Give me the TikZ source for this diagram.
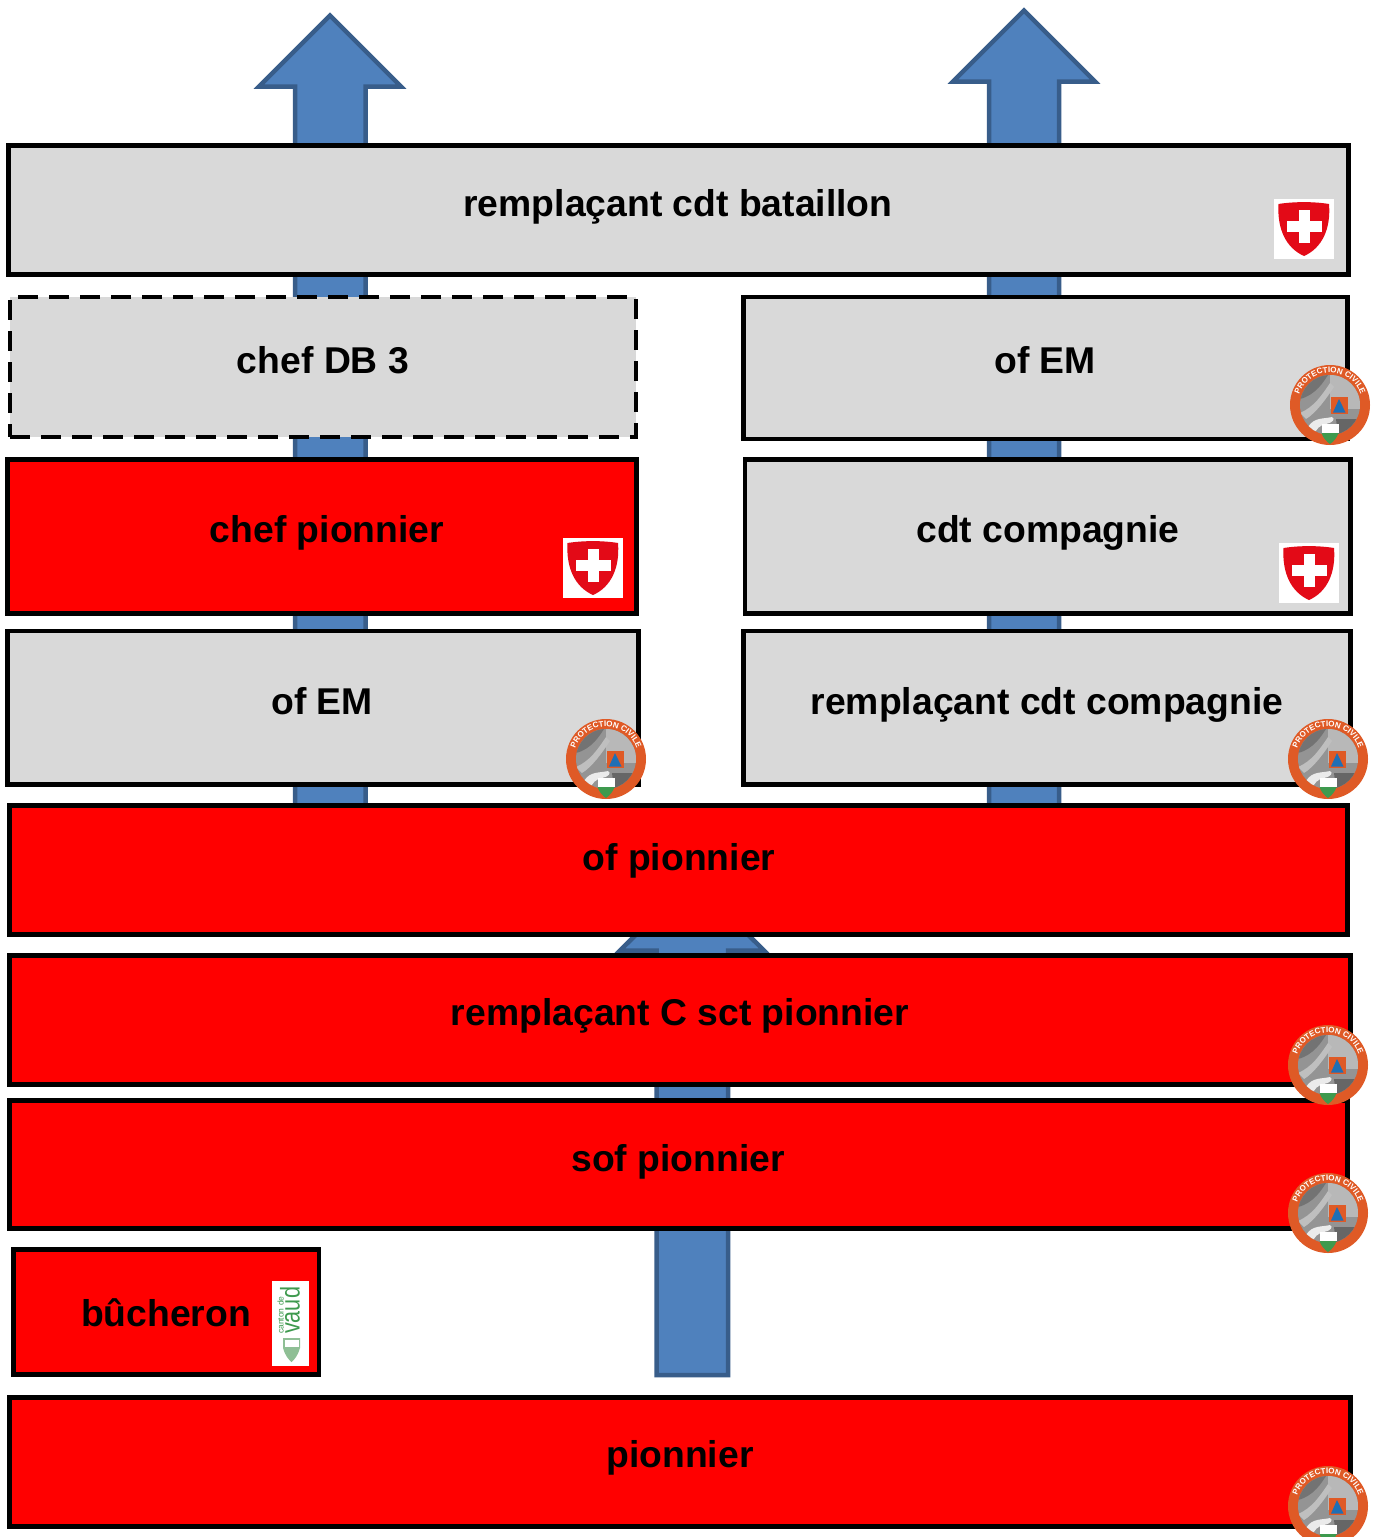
\documentclass[tikz,border=0pt]{standalone}
\usepackage{fontspec}
\usepackage{graphicx}
\setmainfont{Liberation Sans}
\usetikzlibrary{decorations.text,calc}
\definecolor{arrowfill}{HTML}{4F81BD}
\definecolor{arrowline}{HTML}{385D8A}
\definecolor{boxgray}{HTML}{D9D9D9}
\definecolor{boxred}{HTML}{FF0000}
\definecolor{pcorange}{HTML}{DF5A26}
\definecolor{chred}{HTML}{E30A17}
\definecolor{vdgreen}{HTML}{3E9A4E}
\definecolor{vdpale}{HTML}{8FBF95}
\definecolor{pcblue}{HTML}{1F6FB5}
\tikzset{
  blockarrow/.style={fill=arrowfill,draw=arrowline,line width=4.5pt,miter limit=10},
  panel/.style={draw=black,line width=4.5pt,inner sep=0pt,outer sep=0pt,anchor=north west},
  graypanel/.style={panel,fill=boxgray},
  redpanel/.style={panel,fill=boxred},
  dashpanel/.style={graypanel,dash pattern=on 20pt off 11pt},
  caption/.style={font=\fontsize{37.3}{37.3}\selectfont\bfseries,text=black,inner sep=0pt,anchor=base},
}
% panel: name, style, x1, y1, x2, y2, text, text x, text baseline y
\newcommand{\panelbox}[9]{%
  \pgfmathsetmacro{\pw}{#5-#3}\pgfmathsetmacro{\ph}{#6-#4}%
  \node[#2,minimum width=\pw pt,minimum height=\ph pt] (#1) at (#3,#4) {};
  \node[caption] (#1-label) at (#8,#9) {#7};
}
% Swiss shield: left/top of the 60px white square
\newcommand{\swissbadge}[3]{%
  \begin{scope}[shift={(#2,#3)}]
    \node[fill=white,minimum size=60pt,inner sep=0pt,outer sep=0pt,anchor=north west] (#1) at (0,0) {};
    \fill[chred] (4.5,5) .. controls (20,2.5) and (40,2.5) .. (55,5)
      .. controls (57,30) and (48,49) .. (30,57) .. controls (12,49) and (3,30) .. (4.5,5) -- cycle;
    \fill[white] (24.5,11) rectangle (36,44);
    \fill[white] (13,22) rectangle (48,33);
  \end{scope}}
% civil protection badge: centre
\newcommand{\pcbadge}[3]{%
  \begin{scope}[shift={(#2,#3)}]
    \node[circle,fill=pcorange,minimum size=80pt,inner sep=0pt,outer sep=0pt] (#1) at (0,0) {};
    \begin{scope}
      \clip (0,0) circle[radius=30pt];
      \fill[black!42] (-30,-30) rectangle (30,30);
      \fill[black!28] (0,-30) -- (30,-30) -- (30,4) -- (0,4) -- cycle;
      \fill[black!55] (-30,-6) .. controls (-14,-10) and (-6,-24) .. (-2,-30) -- (-30,-30) -- cycle;
      \fill[black!25] (-30,8) .. controls (-16,2) and (-8,-10) .. (0,-22) -- (4,-18) .. controls (-4,-6) and (-14,8) .. (-24,14) -- cycle;
      \fill[black!8] (-22,22) .. controls (-16,12) and (-6,14) .. (2,12) .. controls (6,14) and (2,18) .. (-4,19) .. controls (-10,20) and (-14,24) .. (-16,30) -- (-22,30) -- cycle;
      \fill[black!60] (6,14) -- (30,14) -- (30,30) -- (8,30) -- cycle;
    \end{scope}
    \fill[pcorange] (0.5,-8.5) rectangle (18,9);
    \fill[pcblue] (3,7.5) -- (9,-6) -- (15.5,7.5) -- cycle;
    \fill[white] (-8.5,19) -- (8.5,19) -- (8.5,28) -- (-8.5,28) -- cycle;
    \fill[vdgreen] (-8.5,28) -- (8.5,28) .. controls (7,33) and (3,37) .. (0,39) .. controls (-3,37) and (-7,33) .. (-8.5,28) -- cycle;
    \path[postaction={decorate,decoration={text along path,text align=center,
      text={|\fontsize{8}{9}\selectfont\bfseries\color{white}|PROTECTION CIVILE}}}]
      (-32.5,0) arc[start angle=180,end angle=0,radius=32.5pt];
  \end{scope}}
\begin{document}
\begin{tikzpicture}[x=1pt,y=-1pt]
\useasboundingbox (0,0) rectangle (1379,1537);
\fill[white] (0,0) rectangle (1379,1537);
% block arrows
\draw[blockarrow] (330,15.5) -- (401,86.5) -- (365.5,86.5) -- (365.5,810) -- (295,810) -- (295,86.5) -- (259,86.5) -- cycle;
\draw[blockarrow] (1024,10.5) -- (1095,81.5) -- (1059,81.5) -- (1059,810) -- (989,810) -- (989,81.5) -- (953,81.5) -- cycle;
\draw[blockarrow] (692,879) -- (764,950.5) -- (728,950.5) -- (728,1375) -- (656.5,1375) -- (656.5,950.5) -- (620,950.5) -- cycle;
% panels
\panelbox{batt}{graypanel}{8.5}{145.5}{1348.5}{274.5}{remplaçant cdt bataillon}{678}{216}
\panelbox{db}{dashpanel}{10}{297}{636}{437}{chef DB 3}{323}{373}
\panelbox{emr}{graypanel}{743.5}{297}{1347.5}{439}{of EM}{1045}{373}
\panelbox{chef}{redpanel}{7.5}{459.5}{636.5}{613.5}{chef pionnier}{327}{542}
\panelbox{cdt}{graypanel}{745}{459.5}{1350.5}{613.5}{cdt compagnie}{1048}{542}
\panelbox{eml}{graypanel}{7.5}{631}{638.5}{784.5}{of EM}{322}{714}
\panelbox{rcdt}{graypanel}{743.5}{631}{1350.5}{784.5}{remplaçant cdt compagnie}{1047}{714}
\panelbox{of}{redpanel}{9.5}{805.5}{1347.5}{934.5}{of pionnier}{679}{870}
\panelbox{rc}{redpanel}{9.5}{955.5}{1350.5}{1084.5}{remplaçant C sct pionnier}{680}{1025}
\panelbox{sof}{redpanel}{9.5}{1100.5}{1347.5}{1228.5}{sof pionnier}{678}{1171}
\panelbox{buch}{redpanel}{13.5}{1249.5}{319}{1374.5}{bûcheron}{166}{1326}
\panelbox{pion}{redpanel}{9.5}{1397.5}{1350.5}{1526.5}{pionnier}{680}{1467}
% Swiss shields
\swissbadge{ch1}{1274}{199}
\swissbadge{ch2}{563}{538}
\swissbadge{ch3}{1279}{543}
% civil protection badges
\pcbadge{pc1}{1330}{405}
\pcbadge{pc2}{606}{759}
\pcbadge{pc3}{1328}{759}
\pcbadge{pc4}{1328}{1065}
\pcbadge{pc5}{1328}{1213}
\pcbadge{pc6}{1328}{1506}
% Vaud logo
\node[fill=white,minimum width=37pt,minimum height=85pt,inner sep=0pt,outer sep=0pt,anchor=north west] (vd) at (272,1281) {};
\node[rotate=90,text=vdgreen,font=\fontsize{27}{27}\selectfont,inner sep=0pt,anchor=base west] (vdname) at (299.5,1334) {\scalebox{.8}[1]{vaud}};
\node[rotate=90,text=vdgreen,font=\fontsize{8.5}{9}\selectfont,inner sep=0pt,anchor=base west] (vdcanton) at (283.5,1334) {canton de};
\fill[vdpale] (283,1338) -- (300,1338) -- (300,1348) .. controls (298,1355) and (295,1359) .. (291.5,1362) .. controls (288,1359) and (285,1355) .. (283,1348) -- cycle;
\fill[white] (284.5,1339.5) rectangle (298.5,1347);
\end{tikzpicture}
\end{document}
